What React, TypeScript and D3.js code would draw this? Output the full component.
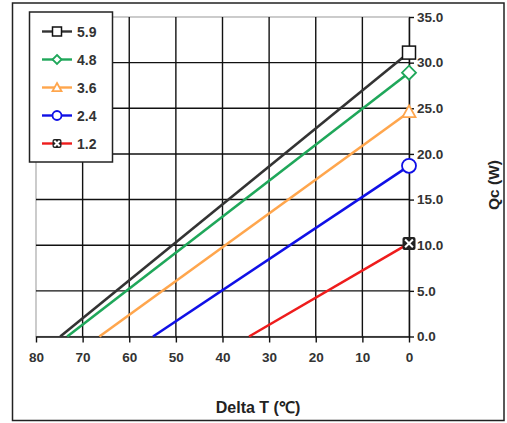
import { useRef, useEffect } from 'react';
import * as d3 from 'd3';

// Each series: Delta T where Qc hits 0, and Qc at Delta T = 0
const LABELS = ['5.9', '4.8', '3.6', '2.4', '1.2'];
const DT_MAX = [74.8, 73.3, 66.4, 54.9, 34.3];
const QC_MAX = [31.1, 28.9, 24.6, 18.7, 10.2];
const COLORS = ['#333333', '#1fa75a', '#ffa64d', '#1010e6', '#ee1c1c'];
const MARKERS = ['square', 'diamond', 'triangle', 'circle', 'xbox'];
const X_TICKS = [80, 70, 60, 50, 40, 30, 20, 10, 0];
const Y_TICKS = [0, 5, 10, 15, 20, 25, 30, 35];

const VW = 507, VH = 423;
const P = { left: 36, right: 409, top: 17, bottom: 336.5 };
const FONT = '"Liberation Sans", Arial, sans-serif';

function drawMarker(g: d3.Selection<SVGGElement, unknown, null, undefined>, kind: string, color: string, cx: number, cy: number, s: number) {
  const m = g.append('g').attr('transform', `translate(${cx},${cy})`);
  if (kind === 'square') {
    m.append('rect').attr('x', -s).attr('y', -s).attr('width', 2 * s).attr('height', 2 * s)
      .attr('fill', '#fff').attr('stroke', '#111').attr('stroke-width', 1.5);
  } else if (kind === 'diamond') {
    m.append('path').attr('d', `M0,${-s}L${s},0L0,${s}L${-s},0Z`)
      .attr('fill', '#fff').attr('stroke', color).attr('stroke-width', 1.8);
  } else if (kind === 'triangle') {
    m.append('path').attr('d', `M0,${-s}L${s},${s * 0.8}L${-s},${s * 0.8}Z`)
      .attr('fill', '#fff').attr('stroke', color).attr('stroke-width', 1.8);
  } else if (kind === 'circle') {
    m.append('circle').attr('r', s).attr('fill', '#fff').attr('stroke', color).attr('stroke-width', 1.8);
  } else {
    m.append('rect').attr('x', -s).attr('y', -s).attr('width', 2 * s).attr('height', 2 * s)
      .attr('fill', '#222').attr('rx', 2);
    m.append('path').attr('d', `M${-s * 0.6},${-s * 0.6}L${s * 0.6},${s * 0.6}M${s * 0.6},${-s * 0.6}L${-s * 0.6},${s * 0.6}`)
      .attr('stroke', '#fff').attr('stroke-width', 2);
  }
}

export default function App() {
  const svgRef = useRef<SVGSVGElement>(null);

  useEffect(() => {
    const svg = d3.select(svgRef.current);
    svg.selectAll('*').remove();

    const x = d3.scaleLinear().domain([80, 0]).range([P.left, P.right]);
    const y = d3.scaleLinear().domain([0, 35]).range([P.bottom, P.top]);

    svg.append('rect').attr('width', VW).attr('height', VH).attr('fill', '#fff');
    // outer frame
    svg.append('rect').attr('x', 12.5).attr('y', 3).attr('width', 491.5).attr('height', 417.5)
      .attr('fill', 'none').attr('stroke', '#222').attr('stroke-width', 1.5);

    // plot border (light gray)
    svg.append('rect').attr('x', P.left).attr('y', P.top).attr('width', P.right - P.left).attr('height', P.bottom - P.top)
      .attr('fill', 'none').attr('stroke', '#aaa').attr('stroke-width', 1.2);

    // grid
    const grid = svg.append('g').attr('stroke', '#111').attr('stroke-width', 1.4);
    grid.selectAll('.v').data(X_TICKS.slice(1, -1)).join('line')
      .attr('x1', d => x(d)).attr('x2', d => x(d)).attr('y1', P.top).attr('y2', P.bottom);
    grid.selectAll('.h').data(Y_TICKS.slice(1, -1)).join('line')
      .attr('x1', P.left).attr('x2', P.right).attr('y1', d => y(d)).attr('y2', d => y(d));

    // x axis
    const xa = svg.append('g').attr('transform', `translate(0,${P.bottom})`)
      .call(d3.axisBottom(x).tickValues(X_TICKS).tickSize(6).tickSizeOuter(0).tickFormat(d3.format('d')));
    xa.select('.domain').attr('stroke', '#111').attr('stroke-width', 1.5);
    xa.selectAll('.tick line').attr('stroke', '#111').attr('stroke-width', 1.4);
    xa.selectAll('.tick text').attr('font-family', FONT).attr('font-size', 13.5).attr('font-weight', 'bold')
      .attr('fill', '#333').attr('y', 25).attr('dy', 0);

    // y axis (right)
    const ya = svg.append('g').attr('transform', `translate(${P.right},0)`)
      .call(d3.axisRight(y).tickValues(Y_TICKS).tickSize(5).tickSizeOuter(0).tickFormat(d3.format('.1f')));
    ya.select('.domain').attr('stroke', '#111').attr('stroke-width', 1.5);
    ya.selectAll('.tick line').attr('stroke', '#111').attr('stroke-width', 1.4);
    ya.selectAll('.tick text').attr('font-family', FONT).attr('font-size', 13.5).attr('font-weight', 'bold')
      .attr('fill', '#333').attr('x', 8);

    // series lines
    const line = d3.line<[number, number]>().x(d => x(d[0])).y(d => y(d[1]));
    const lines = svg.append('g');
    LABELS.forEach((_, i) => {
      lines.append('path').attr('d', line([[DT_MAX[i], 0], [0, QC_MAX[i]]]) ?? '')
        .attr('fill', 'none').attr('stroke', COLORS[i]).attr('stroke-width', 2.6);
    });
    const marks = svg.append('g');
    LABELS.forEach((_, i) => {
      drawMarker(marks, MARKERS[i], COLORS[i], x(0), y(QC_MAX[i]), i === 1 ? 7 : i === 3 ? 7 : 6.5);
    });

    // legend
    const lg = svg.append('g');
    lg.append('rect').attr('x', 29.5).attr('y', 12).attr('width', 83).attr('height', 150)
      .attr('fill', '#fff').attr('stroke', '#222').attr('stroke-width', 1.5);
    LABELS.forEach((lab, i) => {
      const cy = 31.5 + i * 28;
      lg.append('line').attr('x1', 42).attr('x2', 72).attr('y1', cy).attr('y2', cy)
        .attr('stroke', COLORS[i]).attr('stroke-width', 2.4);
      drawMarker(lg, MARKERS[i], COLORS[i], 57, cy, 4.5);
      lg.append('text').attr('x', 77).attr('y', cy).attr('dy', '0.36em')
        .attr('font-family', FONT).attr('font-size', 14).attr('font-weight', 'bold').attr('fill', '#333')
        .text(lab);
    });

    // axis titles
    svg.append('text').attr('x', 258).attr('y', 413).attr('text-anchor', 'middle')
      .attr('font-family', FONT).attr('font-size', 16).attr('font-weight', 'bold').attr('fill', '#222')
      .text('Delta T (℃)');
    svg.append('text').attr('transform', 'translate(499,185) rotate(-90)').attr('text-anchor', 'middle')
      .attr('font-family', FONT).attr('font-size', 15.5).attr('font-weight', 'bold').attr('fill', '#222')
      .text('Qc (W)');
  }, []);

  return (
    <svg ref={svgRef} width={VW} height={VH} viewBox={`0 0 ${VW} ${VH}`}
      style={{ position: 'absolute', left: 0, top: 0, display: 'block' }} />
  );
}
